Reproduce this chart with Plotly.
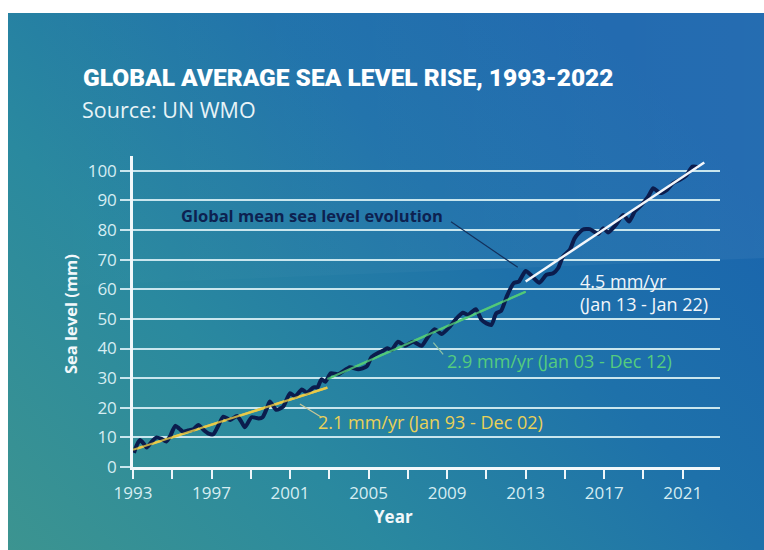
import base64
import plotly.graph_objects as go

# ---------------- data ----------------
years = [1993.05, 1993.2, 1993.36, 1993.55, 1993.7, 1993.95, 1994.2, 1994.45, 1994.7, 1994.9,
         1995.15, 1995.35, 1995.55, 1995.8, 1996.07, 1996.33, 1996.6, 1996.85, 1997.1, 1997.35,
         1997.6, 1997.95, 1998.3, 1998.5, 1998.7, 1999.04, 1999.4, 1999.6, 1999.8, 1999.97,
         2000.3, 2000.65, 2001.0, 2001.25, 2001.6, 2001.85, 2002.2, 2002.4, 2002.6, 2002.8,
         2003.07, 2003.45, 2004.05, 2004.47, 2004.9, 2005.15, 2005.5, 2005.75, 2005.95, 2006.17,
         2006.5, 2006.85, 2007.27, 2007.7, 2008.03, 2008.37, 2008.72, 2009.14, 2009.48, 2009.8,
         2010.07, 2010.46, 2010.75, 2011.0, 2011.26, 2011.5, 2011.75, 2012.05, 2012.4, 2012.65,
         2013.0, 2013.3, 2013.7, 2014.06, 2014.4, 2014.65, 2014.9, 2015.25, 2015.5, 2015.9,
         2016.27, 2016.7, 2016.95, 2017.2, 2017.6, 2017.97, 2018.27, 2018.56, 2018.9, 2019.24,
         2019.5, 2019.84, 2020.2, 2020.5, 2020.85, 2021.2, 2021.5, 2021.8]
sea_level = [4.8, 7.5, 9.1, 7.8, 6.6, 8.5, 10.0, 9.5, 8.6, 10.5,
             13.9, 13.0, 11.9, 12.3, 12.7, 14.2, 12.5, 11.3, 11.1, 14.0,
             17.0, 15.9, 17.2, 15.5, 13.4, 16.8, 16.4, 16.8, 19.5, 22.1,
             19.3, 20.4, 24.9, 23.8, 26.2, 25.1, 26.9, 26.9, 29.6, 28.8,
             31.6, 31.3, 33.7, 33.0, 33.9, 37.1, 38.6, 39.3, 40.1, 39.5,
             42.3, 40.9, 42.3, 40.9, 44.0, 46.5, 44.9, 47.4, 50.2, 52.1,
             51.4, 53.3, 49.7, 48.5, 48.0, 51.9, 52.7, 57.8, 62.1, 62.6,
             66.2, 64.6, 62.2, 64.9, 65.4, 67.1, 71.0, 73.3, 77.3, 80.1,
             80.3, 78.7, 80.6, 79.2, 81.8, 85.1, 82.9, 86.3, 88.5, 91.3,
             94.1, 92.5, 93.6, 95.8, 97.0, 98.6, 101.4, 101.2]

trend1_years = [1993.0, 2002.9]
trend1_vals = [5.8, 26.8]
trend2_years = [2002.9, 2013.0]
trend2_vals = [29.7, 59.2]
trend3_years = [2013.0, 2022.1]
trend3_vals = [62.6, 102.8]

x_tick_years = list(range(1993, 2023, 2))
x_tick_labels = [str(y) if (y - 1993) % 4 == 0 else "" for y in x_tick_years]
y_ticks = list(range(0, 101, 10))

# ---------------- background gradient (SVG) ----------------
svg = """<svg xmlns='http://www.w3.org/2000/svg' width='756' height='537' viewBox='0 0 756 537' preserveAspectRatio='none'>
<defs>
<linearGradient id='g' x1='0' y1='1' x2='1' y2='0.35'>
<stop offset='0' stop-color='#3c9490'/>
<stop offset='0.35' stop-color='#2a899f'/>
<stop offset='0.7' stop-color='#1e71aa'/>
<stop offset='1' stop-color='#1a65ad'/>
</linearGradient>
<linearGradient id='h' x1='0' y1='0' x2='1' y2='0'>
<stop offset='0' stop-color='#ffffff' stop-opacity='0.0'/>
<stop offset='1' stop-color='#ffffff' stop-opacity='0.05'/>
</linearGradient>
</defs>
<rect x='0' y='0' width='756' height='537' fill='url(#g)'/>
<polygon points='0,0 756,0 756,245 0,275' fill='url(#h)'/>
</svg>"""
svg_uri = "data:image/svg+xml;base64," + base64.b64encode(svg.encode()).decode()

fig = go.Figure()

# trend lines
fig.add_trace(go.Scatter(x=trend1_years, y=trend1_vals, mode="lines",
                         line=dict(color="#e9c948", width=2.5), hoverinfo="skip"))
fig.add_trace(go.Scatter(x=trend2_years, y=trend2_vals, mode="lines",
                         line=dict(color="#52c879", width=2.2), hoverinfo="skip"))
# main series
fig.add_trace(go.Scatter(x=years, y=sea_level, mode="lines",
                         line=dict(color="#0b1c4d", width=4, shape="spline", smoothing=0.6)))
fig.add_trace(go.Scatter(x=trend1_years, y=trend1_vals, mode="lines", opacity=0.8,
                         line=dict(color="#e9c948", width=2.2), hoverinfo="skip"))
fig.add_trace(go.Scatter(x=trend2_years, y=trend2_vals, mode="lines", opacity=0.8,
                         line=dict(color="#52c879", width=2), hoverinfo="skip"))
fig.add_trace(go.Scatter(x=trend3_years, y=trend3_vals, mode="lines",
                         line=dict(color="#f4f7fb", width=2.5), hoverinfo="skip"))

tick_font = dict(family="Open Sans, Noto Sans, sans-serif", size=17, color="#d6edf2")

fig.update_layout(
    width=764, height=550,
    margin=dict(l=133, r=44, t=156, b=83),
    paper_bgcolor="white",
    plot_bgcolor="rgba(0,0,0,0)",
    showlegend=False,
    xaxis=dict(range=[1993, 2022.9], tickmode="array", tickvals=x_tick_years,
               ticktext=x_tick_labels, ticks="outside", ticklen=9, tickwidth=2,
               tickcolor="#eef6fa", showgrid=False, zeroline=False,
               showline=True, linecolor="#f2f8fb", linewidth=2.5,
               tickfont=tick_font),
    yaxis=dict(range=[0, 105], tickmode="array", tickvals=y_ticks,
               ticks="outside", ticklen=10, tickwidth=2, tickcolor="#c9e6ee",
               showgrid=True, gridcolor="#c9e6ee", gridwidth=2, zeroline=False,
               showline=True, linecolor="#f2f8fb", linewidth=2.5,
               tickfont=tick_font),
    images=[dict(source=svg_uri, xref="paper", yref="paper",
                 x=(8 - 133) / 587, y=(467 - 13) / 311,
                 sizex=756 / 587, sizey=537 / 311,
                 xanchor="left", yanchor="top", sizing="stretch", layer="below")],
)

# leader lines
fig.add_shape(type="line", x0=2009.2, y0=82.8, x1=2012.6, y1=67.4,
              line=dict(color="#13305c", width=1.2))
fig.add_shape(type="line", x0=2008.8, y0=38.0, x1=2008.3, y1=42.0,
              line=dict(color="#8fc3a6", width=1.2))
fig.add_shape(type="line", x0=2001.5, y0=21.3, x1=2002.6, y1=16.8,
              line=dict(color="#c9c796", width=1.2))

PX = 587.0
PY = 311.0

def px(xp):
    return (xp - 133) / PX

def py(yp):
    return (467 - yp) / PY

sans = "Open Sans, Noto Sans, sans-serif"
annots = [
    dict(text="GLOBAL AVERAGE SEA LEVEL RISE, 1993-2022", x=px(81), y=py(77),
         font=dict(family="Roboto, Inter, sans-serif", size=24.5, color="white", weight=900)),
    dict(text="Source: UN WMO", x=px(80), y=py(110),
         font=dict(family=sans, size=21.5, color="#e8f3f7")),
    dict(text="Global mean sea level evolution", x=px(179), y=py(215),
         font=dict(family=sans, size=16.5, color="#0d2150", weight="bold")),
    dict(text="4.5 mm/yr<br>(Jan 13 - Jan 22)", x=px(578), y=py(292), align="left",
         font=dict(family=sans, size=18, color="#f2f6fa")),
    dict(text="2.9 mm/yr (Jan 03 - Dec 12)", x=px(445), y=py(361),
         font=dict(family=sans, size=18, color="#55cc7e")),
    dict(text="2.1 mm/yr (Jan 93 - Dec 02)", x=px(316), y=py(422),
         font=dict(family=sans, size=18, color="#ead158")),
]
for a in annots:
    fig.add_annotation(xref="paper", yref="paper", xanchor="left", yanchor="middle",
                       showarrow=False, **a)

fig.add_annotation(text="Year", xref="paper", yref="paper", x=px(393), y=py(516),
                   xanchor="center", yanchor="middle", showarrow=False,
                   font=dict(family=sans, size=17, color="#f2f8fb", weight="bold"))
fig.add_annotation(text="Sea level (mm)", xref="paper", yref="paper", x=px(70), y=py(314),
                   xanchor="center", yanchor="middle", textangle=-90, showarrow=False,
                   font=dict(family=sans, size=16.5, color="#f2f8fb", weight="bold"))

fig.write_html("out.html")
